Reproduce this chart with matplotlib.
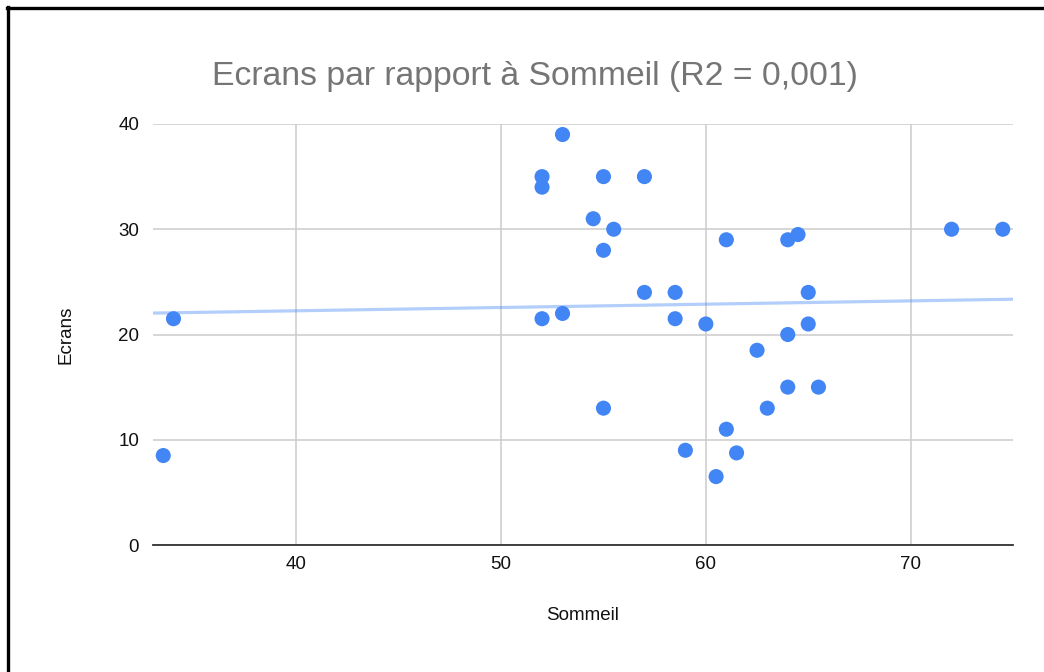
import numpy as np
import matplotlib
matplotlib.use("Agg")
import matplotlib.pyplot as plt
from matplotlib.lines import Line2D

plt.rcParams['font.family'] = ['Liberation Sans', 'DejaVu Sans']

# Data
sommeil = [33.5, 34, 52, 52, 53, 52, 53, 55, 54.5, 55.5, 55, 57, 57, 58.5, 58.5,
           55, 60, 61, 64, 64.5, 65, 65, 64, 62.5, 64, 65.5, 63, 61, 59, 61.5,
           60.5, 72, 74.5]
ecrans = [8.5, 21.5, 35, 34, 39, 21.5, 22, 35, 31, 30, 28, 35, 24, 24, 21.5,
          13, 21, 29, 29, 29.5, 24, 21, 20, 18.5, 15, 15, 13, 11, 9, 8.75,
          6.5, 30, 30]
x_ticks = [40, 50, 60, 70]
y_ticks = [0, 10, 20, 30, 40]
title = "Ecrans par rapport à Sommeil (R2 = 0,001)"

W, H = 1044, 672
fig = plt.figure(figsize=(W / 100, H / 100), dpi=100)
fig.patch.set_facecolor('white')

ax = fig.add_axes([153 / W, 1 - 545 / H, (1013 - 153) / W, (545 - 124) / H])
ax.set_xlim(33, 75)
ax.set_ylim(0, 40)

ax.set_xticks(x_ticks)
ax.set_yticks(y_ticks)
ax.grid(True, color='#cccccc', linewidth=1.1)
ax.set_axisbelow(True)
for s in ['top', 'right', 'left']:
    ax.spines[s].set_visible(False)
ax.spines['bottom'].set_color('#333333')
ax.spines['bottom'].set_linewidth(1.3)
ax.tick_params(axis='both', length=0, labelsize=13.5, labelcolor='#111111')
ax.tick_params(axis='x', pad=8)
ax.tick_params(axis='y', pad=10)

# trendline (linear regression from the data)
coef = np.polyfit(sommeil, ecrans, 1)
xl = np.array([33, 75])
ax.plot(xl, np.polyval(coef, xl), color='#4285F4', alpha=0.4, linewidth=2.3,
        solid_capstyle='butt', zorder=2)

ax.scatter(sommeil, ecrans, s=118, color='#4285F4', edgecolors='none', zorder=3,
           clip_on=False)

ax.set_xlabel('Sommeil', fontsize=13.5, color='#111111')
ax.set_ylabel('Ecrans', fontsize=13.5, color='#111111')
ax.xaxis.label.set_va('center')
ax.yaxis.label.set_va('center')
ax.xaxis.set_label_coords(0.5, (545 - 615) / 421)
ax.yaxis.set_label_coords((66 - 153) / 860, 0.5)

fig.text(535 / W, 1 - 77 / H, title, fontsize=24.3, color='#757575',
         ha='center', va='center')

# screenshot border (top and left)
fig.add_artist(Line2D([7 / W, 1], [1 - 8 / H, 1 - 8 / H], color='black',
                      linewidth=2.4, transform=fig.transFigure))
fig.add_artist(Line2D([8 / W, 8 / W], [0, 1 - 7 / H], color='black',
                      linewidth=2.4, transform=fig.transFigure))

fig.savefig('out.png', dpi=100, facecolor='white')
